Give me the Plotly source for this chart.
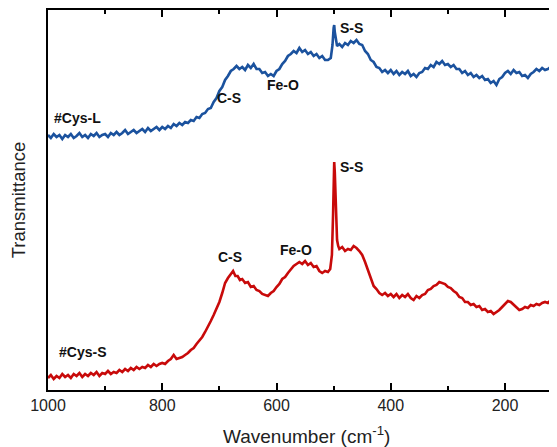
import plotly.graph_objects as go

# ---- data (wavenumber in cm^-1, transmittance in arbitrary units) ----
wavenumber_L = [1000, 995, 990, 985, 980, 975, 970, 965, 960, 955, 950, 945, 940, 935, 930, 925,
                920, 915, 910, 905, 900, 895, 890, 885, 880, 875, 870, 865, 860, 855, 850, 845,
                840, 835, 830, 825, 820, 815, 810, 805, 800, 795, 790, 785, 780, 775, 770, 765,
                760, 755, 750, 745, 740, 735, 730, 725, 720, 715, 710, 705, 700, 695, 690, 685,
                680, 675, 670, 665, 660, 655, 650, 645, 640, 635, 630, 625, 620, 615, 610, 605,
                600, 595, 590, 585, 580, 575, 570, 565, 560, 555, 550, 545, 540, 535, 530, 525,
                520, 515, 510, 505, 502, 500, 499, 498, 496, 494, 490, 485, 480, 475, 470, 465,
                460, 455, 450, 445, 440, 435, 430, 425, 420, 415, 410, 405, 400, 395, 390, 385,
                380, 375, 370, 365, 360, 355, 350, 345, 340, 335, 330, 325, 320, 315, 310, 305,
                300, 295, 290, 285, 280, 275, 270, 265, 260, 255, 250, 245, 240, 235, 230, 225,
                220, 215, 210, 205, 200, 195, 190, 185, 180, 175, 170, 165, 160, 155, 150, 145,
                140, 135, 130, 125, 120, 115, 110, 105, 100]
cys_L = [255, 252, 256, 253, 255, 251, 255, 253, 256, 252, 254, 257, 253, 255, 252, 256,
         254, 257, 253, 255, 256, 253, 257, 255, 258, 255, 257, 260, 256, 258, 260, 257,
         259, 261, 258, 262, 259, 261, 263, 260, 263, 261, 264, 262, 266, 264, 267, 265,
         268, 267, 270, 269, 273, 272, 276, 277, 281, 282, 288, 292, 299, 303, 310, 314,
         319, 321, 324, 321, 323, 320, 325, 322, 326, 321, 321, 317, 318, 314, 316, 314,
         319, 321, 326, 329, 334, 336, 339, 337, 342, 338, 340, 336, 338, 334, 336, 332,
         334, 330, 330, 332, 345, 362, 365, 358, 348, 344, 346, 343, 347, 345, 349, 347,
         350, 346, 345, 339, 336, 330, 328, 323, 322, 318, 320, 317, 320, 316, 319, 315,
         318, 316, 319, 314, 316, 313, 317, 318, 322, 321, 325, 323, 328, 326, 329, 325,
         326, 323, 325, 321, 321, 317, 319, 315, 317, 313, 315, 312, 314, 310, 311, 307,
         309, 305, 311, 313, 317, 319, 316, 320, 317, 318, 314, 315, 312, 316, 318, 321,
         319, 322, 320, 321, 323, 319, 321, 320, 322]

wavenumber_S = [1000, 995, 990, 985, 980, 975, 970, 965, 960, 955, 950, 945, 940, 935, 930, 925,
                920, 915, 910, 905, 900, 895, 890, 885, 880, 875, 870, 865, 860, 855, 850, 845,
                840, 835, 830, 825, 820, 815, 810, 805, 800, 795, 790, 785, 780, 775, 770, 765,
                760, 755, 750, 745, 740, 735, 730, 725, 720, 715, 710, 705, 700, 695, 690, 685,
                680, 676, 672, 668, 664, 660, 655, 650, 645, 640, 635, 630, 625, 620, 615, 610,
                605, 600, 595, 590, 585, 580, 575, 570, 565, 560, 555, 550, 545, 540, 535, 530,
                525, 520, 515, 510, 506, 503, 501, 500, 499, 498, 497, 496, 494, 492, 490, 485,
                480, 475, 470, 465, 460, 455, 450, 445, 440, 435, 430, 425, 420, 415, 410, 405,
                400, 395, 390, 385, 380, 375, 370, 365, 360, 355, 350, 345, 340, 335, 330, 325,
                320, 315, 310, 305, 300, 295, 290, 285, 280, 275, 270, 265, 260, 255, 250, 245,
                240, 235, 230, 225, 220, 215, 210, 205, 200, 195, 190, 185, 180, 175, 170, 165,
                160, 155, 150, 145, 140, 135, 130, 125, 120, 115, 110, 105, 100]
cys_S = [12, 15, 11, 14, 12, 16, 13, 15, 12, 16, 14, 17, 13, 16, 14, 17,
         15, 18, 14, 17, 16, 19, 16, 18, 17, 20, 18, 21, 19, 22, 20, 23,
         21, 23, 22, 25, 23, 26, 24, 26, 27, 26, 29, 31, 35, 31, 32, 33,
         35, 37, 40, 42, 46, 49, 53, 58, 63, 69, 75, 81, 88, 97, 107, 112,
         116, 119, 114, 114, 110, 111, 107, 108, 103, 104, 100, 99, 96, 95, 94, 97,
         99, 103, 106, 111, 113, 117, 121, 124, 126, 128, 126, 129, 125, 127, 123, 124,
         119, 117, 119, 118, 121, 135, 175, 215, 228, 218, 195, 172, 150, 144, 141, 143,
         139, 141, 140, 144, 142, 139, 135, 128, 120, 112, 104, 101, 97, 95, 97, 94,
         96, 93, 96, 92, 95, 93, 96, 92, 90, 94, 92, 95, 96, 100, 101, 104,
         105, 108, 107, 106, 103, 102, 99, 97, 93, 92, 88, 88, 85, 86, 83, 84,
         80, 81, 78, 79, 76, 78, 80, 83, 86, 89, 88, 85, 82, 80, 81, 83,
         82, 85, 84, 86, 85, 87, 88, 87, 90, 93, 98, 104, 108]

x_tick_vals = [1000, 800, 600, 400, 200]
x_tick_text = ["1000", "800", "600", "400", "200"]
x_minor_vals = [900, 700, 500, 300]

labels_text = ["#Cys-L", "C-S", "Fe-O", "S-S", "#Cys-S", "C-S", "Fe-O", "S-S"]
labels_x = [949, 683, 588, 468, 940, 681, 566, 469]
labels_y = [272, 292, 305, 362, 38, 133, 140, 223]

fig = go.Figure()
fig.add_trace(go.Scatter(x=wavenumber_L, y=cys_L, mode="lines",
                         line=dict(color="#1b529e", width=2.6), showlegend=False))
fig.add_trace(go.Scatter(x=wavenumber_S, y=cys_S, mode="lines",
                         line=dict(color="#c80a0a", width=2.6), showlegend=False))

for t, xx, yy in zip(labels_text, labels_x, labels_y):
    fig.add_annotation(x=xx, y=yy, text="<b>%s</b>" % t, showarrow=False,
                       font=dict(family="Liberation Sans, Arial", size=14, color="#111"))

# x-axis title placed as a paper annotation
fig.add_annotation(x=0.5, y=-0.082, xref="paper", yref="paper", xanchor="center",
                   yanchor="top", showarrow=False,
                   text="Wavenumber (cm<sup>-1</sup>)",
                   font=dict(family="Liberation Sans, Arial", size=19, color="#222"))

# the page body adds an 8px offset, so margins are reduced by 8px
fig.update_layout(
    template="none",
    width=557, height=447,
    margin=dict(l=40, r=0, t=2, b=65, autoexpand=False),
    paper_bgcolor="white", plot_bgcolor="white",
    font=dict(family="Liberation Sans, Arial", color="#222"),
)
fig.update_xaxes(
    automargin=False,
    range=[1000, 95], showgrid=False, zeroline=False,
    showline=True, linecolor="black", linewidth=2, mirror="ticks",
    ticks="inside", ticklen=7, tickwidth=2, tickcolor="black",
    tickvals=x_tick_vals, ticktext=x_tick_text,
    tickfont=dict(size=16, color="#222"),
    minor=dict(tickvals=x_minor_vals, ticks="inside", ticklen=4,
               tickwidth=2, tickcolor="black"),
)
fig.update_yaxes(
    automargin=False,
    range=[0, 380], showgrid=False, zeroline=False,
    showline=True, linecolor="black", linewidth=2, mirror=False,
    showticklabels=False, ticks="",
    title=dict(text="Transmittance", font=dict(size=18.5, color="#222")),
)

fig.write_html("out.html")
